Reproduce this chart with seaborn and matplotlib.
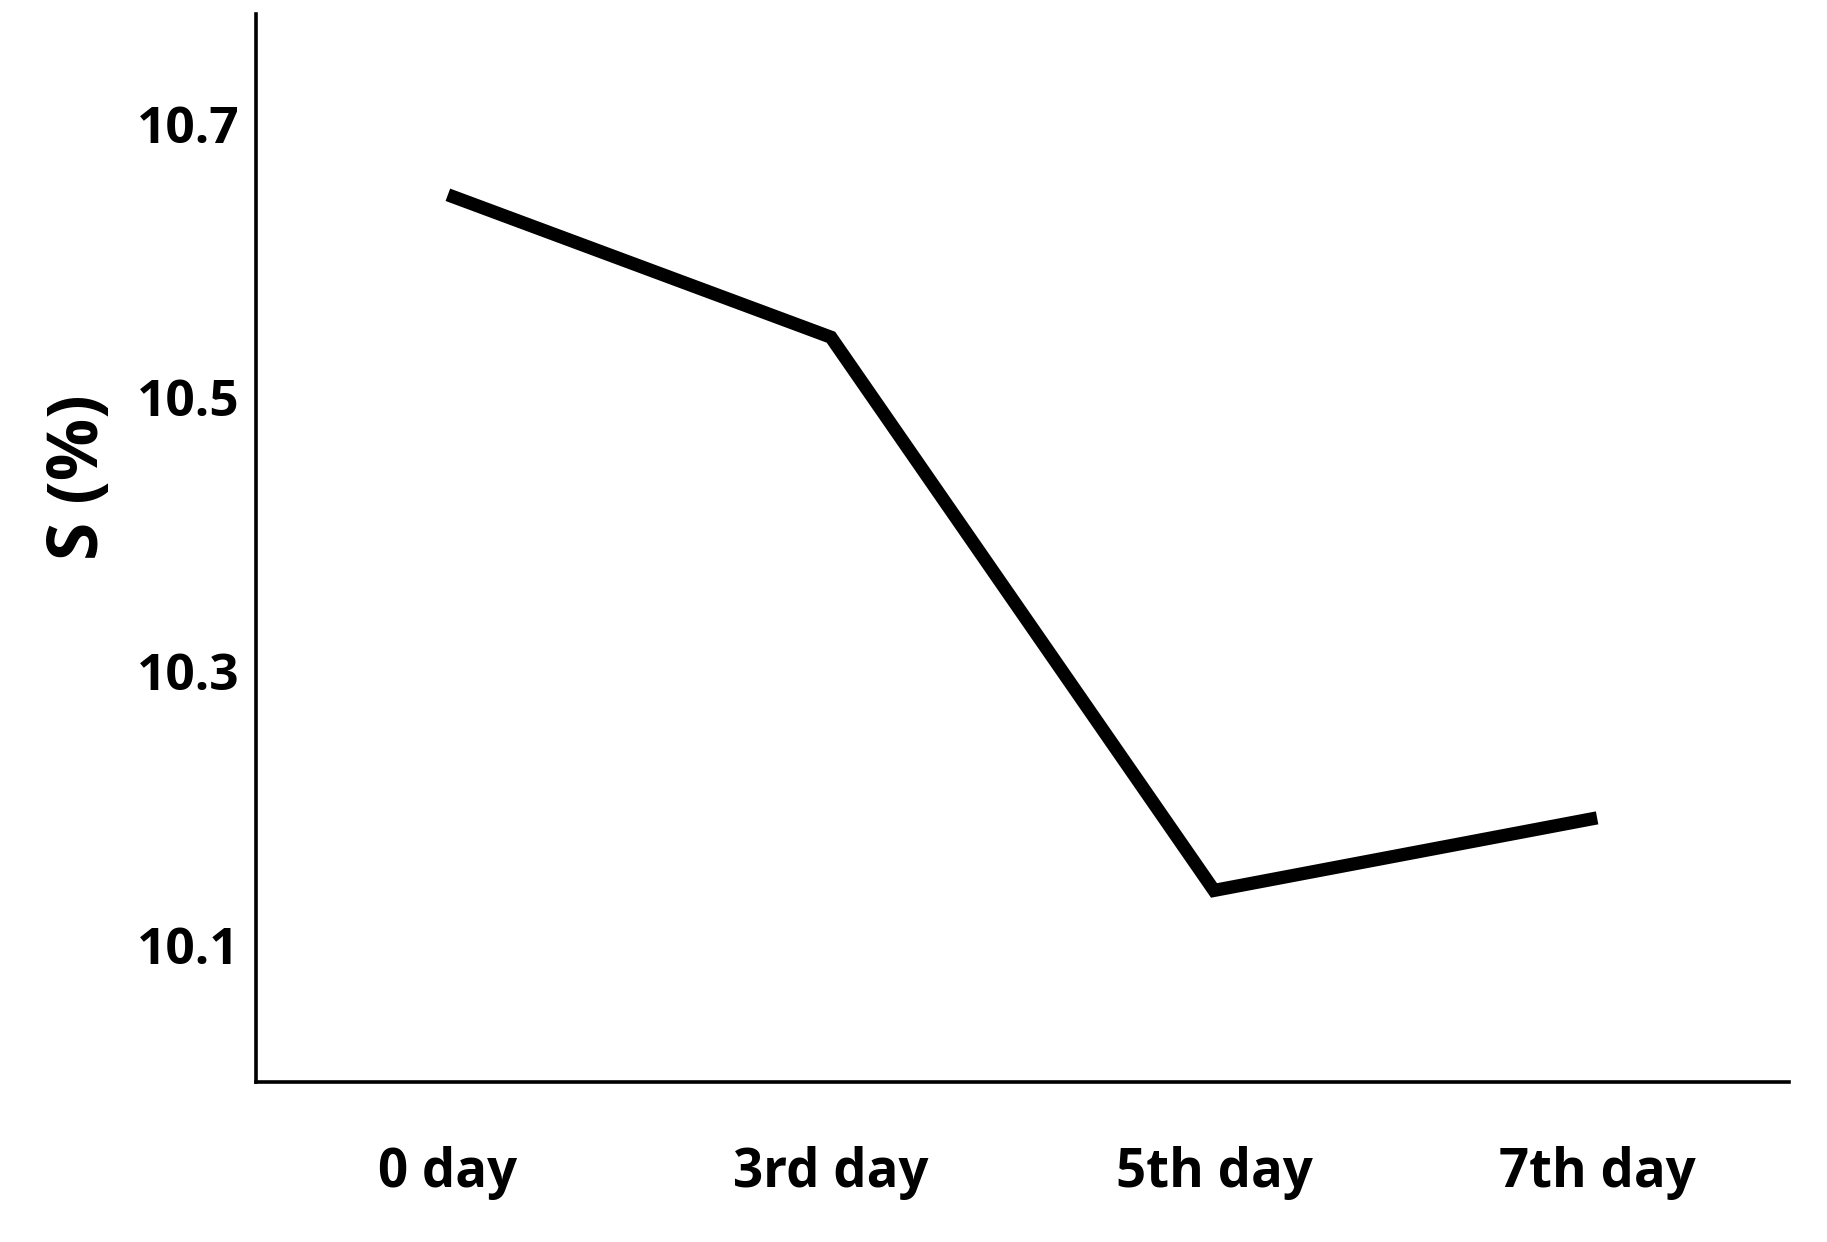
import matplotlib
matplotlib.use("Agg")
import matplotlib.pyplot as plt
import seaborn as sns
import pandas as pd

# values
days = ["0 day", "3rd day", "5th day", "7th day"]
s_percent = [10.648, 10.544, 10.140, 10.193]
y_ticks = [10.1, 10.3, 10.5, 10.7]

df = pd.DataFrame({"day": days, "S": s_percent})

sns.set_style("white")
plt.rcParams["font.family"] = ["Open Sans", "DejaVu Sans"]
plt.rcParams["font.weight"] = "bold"
plt.rcParams["text.color"] = "black"
plt.rcParams["axes.labelcolor"] = "black"
plt.rcParams["xtick.color"] = "black"
plt.rcParams["ytick.color"] = "black"

fig = plt.figure(figsize=(18.27, 12.42), dpi=100)
ax = fig.add_axes([0.1403, 0.1287, 0.8387, 0.86])

sns.lineplot(data=df, x="day", y="S", sort=False, color="black",
             linewidth=9.5, solid_capstyle="butt", solid_joinstyle="miter",
             ax=ax)

ax.set_xlim(-0.5, 3.5)
ax.set_ylim(10.0, 10.78)
ax.set_yticks(y_ticks)
ax.set_yticklabels([f"{v:.1f}" for v in y_ticks])

ax.tick_params(axis="y", length=0, pad=12, labelsize=37, labelcolor="black")
ax.tick_params(axis="x", length=0, pad=46, labelsize=38, labelcolor="black")
for lab in ax.get_xticklabels() + ax.get_yticklabels():
    lab.set_fontweight("bold")

ax.set_xlabel("")
ax.set_ylabel("S (%)", fontsize=50, fontweight="bold", color="black")
ax.yaxis.set_label_coords(-0.092, 0.566)

for side in ["top", "right"]:
    ax.spines[side].set_visible(False)
for side in ["left", "bottom"]:
    ax.spines[side].set_color("black")
    ax.spines[side].set_linewidth(2.6)

fig.savefig("out.png", dpi=100)
